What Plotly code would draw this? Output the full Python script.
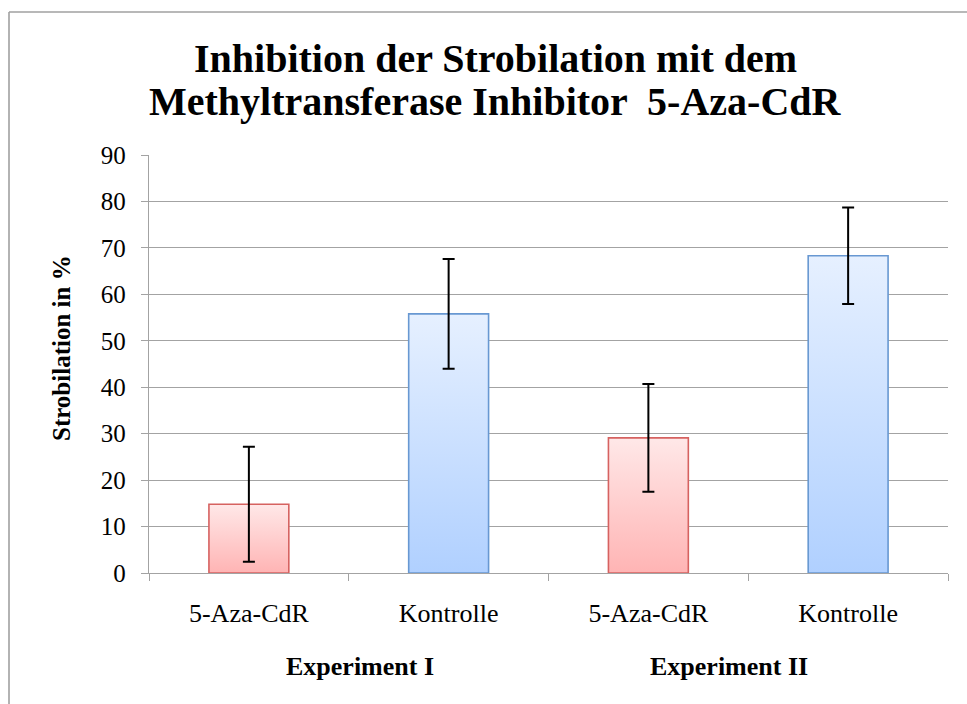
import plotly.graph_objects as go

# ---- data ----
categories = ["5-Aza-CdR", "Kontrolle", "5-Aza-CdR", "Kontrolle"]
values = [14.8, 55.8, 29.1, 68.3]
errors = [12.4, 11.8, 11.6, 10.4]
groups = ["Experiment I", "Experiment II"]
y_ticks = [0, 10, 20, 30, 40, 50, 60, 70, 80, 90]

title_lines = ["Inhibition der Strobilation mit dem",
               "Methyltransferase Inhibitor  5-Aza-CdR"]
y_title = "Strobilation in %"

# ---- style ----
FONT = "Liberation Serif"
red_style = dict(top="rgb(255,232,232)", bottom="rgb(255,180,180)", line="rgb(214,98,96)")
blue_style = dict(top="rgb(230,240,255)", bottom="rgb(176,208,255)", line="rgb(104,152,210)")
bar_styles = [red_style, blue_style, red_style, blue_style]
half_w = 0.2
GRID = "#a3a3a3"

W, H = 967, 704
ML, MR, MT, MB = 149, 19, 155, 131
PW, PH = W - ML - MR, H - MT - MB

def px_to_paper_x(px):
    return (px - ML) / PW

def px_to_paper_y(py):
    return (H - MB - py) / PH

fig = go.Figure()

xs = list(range(len(categories)))
for i, (v, st) in enumerate(zip(values, bar_styles)):
    fig.add_trace(go.Scatter(
        x=[xs[i] - half_w, xs[i] - half_w, xs[i] + half_w, xs[i] + half_w, xs[i] - half_w],
        y=[0, v, v, 0, 0],
        mode="lines",
        fill="toself",
        fillgradient=dict(type="vertical",
                          colorscale=[[0, st["bottom"]], [1, st["top"]]],
                          start=0, stop=v),
        line=dict(color=st["line"], width=1.6),
        hoverinfo="skip",
        showlegend=False,
    ))

fig.add_trace(go.Scatter(
    x=xs, y=values,
    mode="markers",
    marker=dict(size=1, color="rgba(0,0,0,0)"),
    error_y=dict(type="data", array=errors, visible=True,
                 color="black", thickness=2, width=6),
    showlegend=False,
))

fig.update_layout(
    width=W, height=H,
    margin=dict(l=ML, r=MR, t=MT, b=MB),
    paper_bgcolor="white", plot_bgcolor="white",
    font=dict(family=FONT, color="black"),
    showlegend=False,
)

fig.update_xaxes(
    range=[-0.5, 3.5],
    tickmode="array", tickvals=xs, ticktext=categories,
    ticks="", showgrid=False, zeroline=False,
    showline=True, linecolor=GRID, linewidth=1.3,
    tickfont=dict(family=FONT, size=26, color="black"),
    ticklabelstandoff=17,
    minor=dict(tickmode="array", tickvals=[-0.5, 0.5, 1.5, 2.5, 3.5],
               ticks="outside", ticklen=7, tickcolor=GRID, tickwidth=1.3,
               showgrid=False),
)

fig.update_yaxes(
    range=[0, 90],
    tickmode="array", tickvals=y_ticks,
    ticks="outside", ticklen=7, tickcolor=GRID, tickwidth=1.3,
    showgrid=True, gridcolor=GRID, gridwidth=1.3,
    zeroline=False,
    showline=True, linecolor=GRID, linewidth=1.3,
    tickfont=dict(family=FONT, size=25, color="black"),
    ticklabelstandoff=10,
)

# title lines
for line, py in zip(title_lines, [59, 102]):
    fig.add_annotation(
        text="<b>%s</b>" % line, xref="paper", yref="paper",
        x=px_to_paper_x(495), y=px_to_paper_y(py),
        xanchor="center", yanchor="middle", showarrow=False,
        font=dict(family=FONT, size=40, color="black"),
    )

# y-axis title
fig.add_annotation(
    text="<b>%s</b>" % y_title, xref="paper", yref="paper",
    x=px_to_paper_x(61), y=px_to_paper_y(348),
    xanchor="center", yanchor="middle", textangle=-90, showarrow=False,
    font=dict(family=FONT, size=25, color="black"),
)

# group labels
for g, px in zip(groups, [360, 729]):
    fig.add_annotation(
        text="<b>%s</b>" % g, xref="paper", yref="paper",
        x=px_to_paper_x(px), y=px_to_paper_y(666),
        xanchor="center", yanchor="middle", showarrow=False,
        font=dict(family=FONT, size=26, color="black"),
    )

# chart frame (top and left edges visible)
fig.add_shape(type="line", xref="paper", yref="paper",
              x0=px_to_paper_x(9), y0=px_to_paper_y(12),
              x1=px_to_paper_x(W + 5), y1=px_to_paper_y(12),
              line=dict(color="#a0a0a0", width=1.6))
fig.add_shape(type="line", xref="paper", yref="paper",
              x0=px_to_paper_x(9), y0=px_to_paper_y(12),
              x1=px_to_paper_x(9), y1=px_to_paper_y(H + 5),
              line=dict(color="#a0a0a0", width=1.6))

fig.write_html("out.html",
               config={"displayModeBar": False},
               post_script="document.body.style.margin='0px';document.body.style.overflow='hidden';")
